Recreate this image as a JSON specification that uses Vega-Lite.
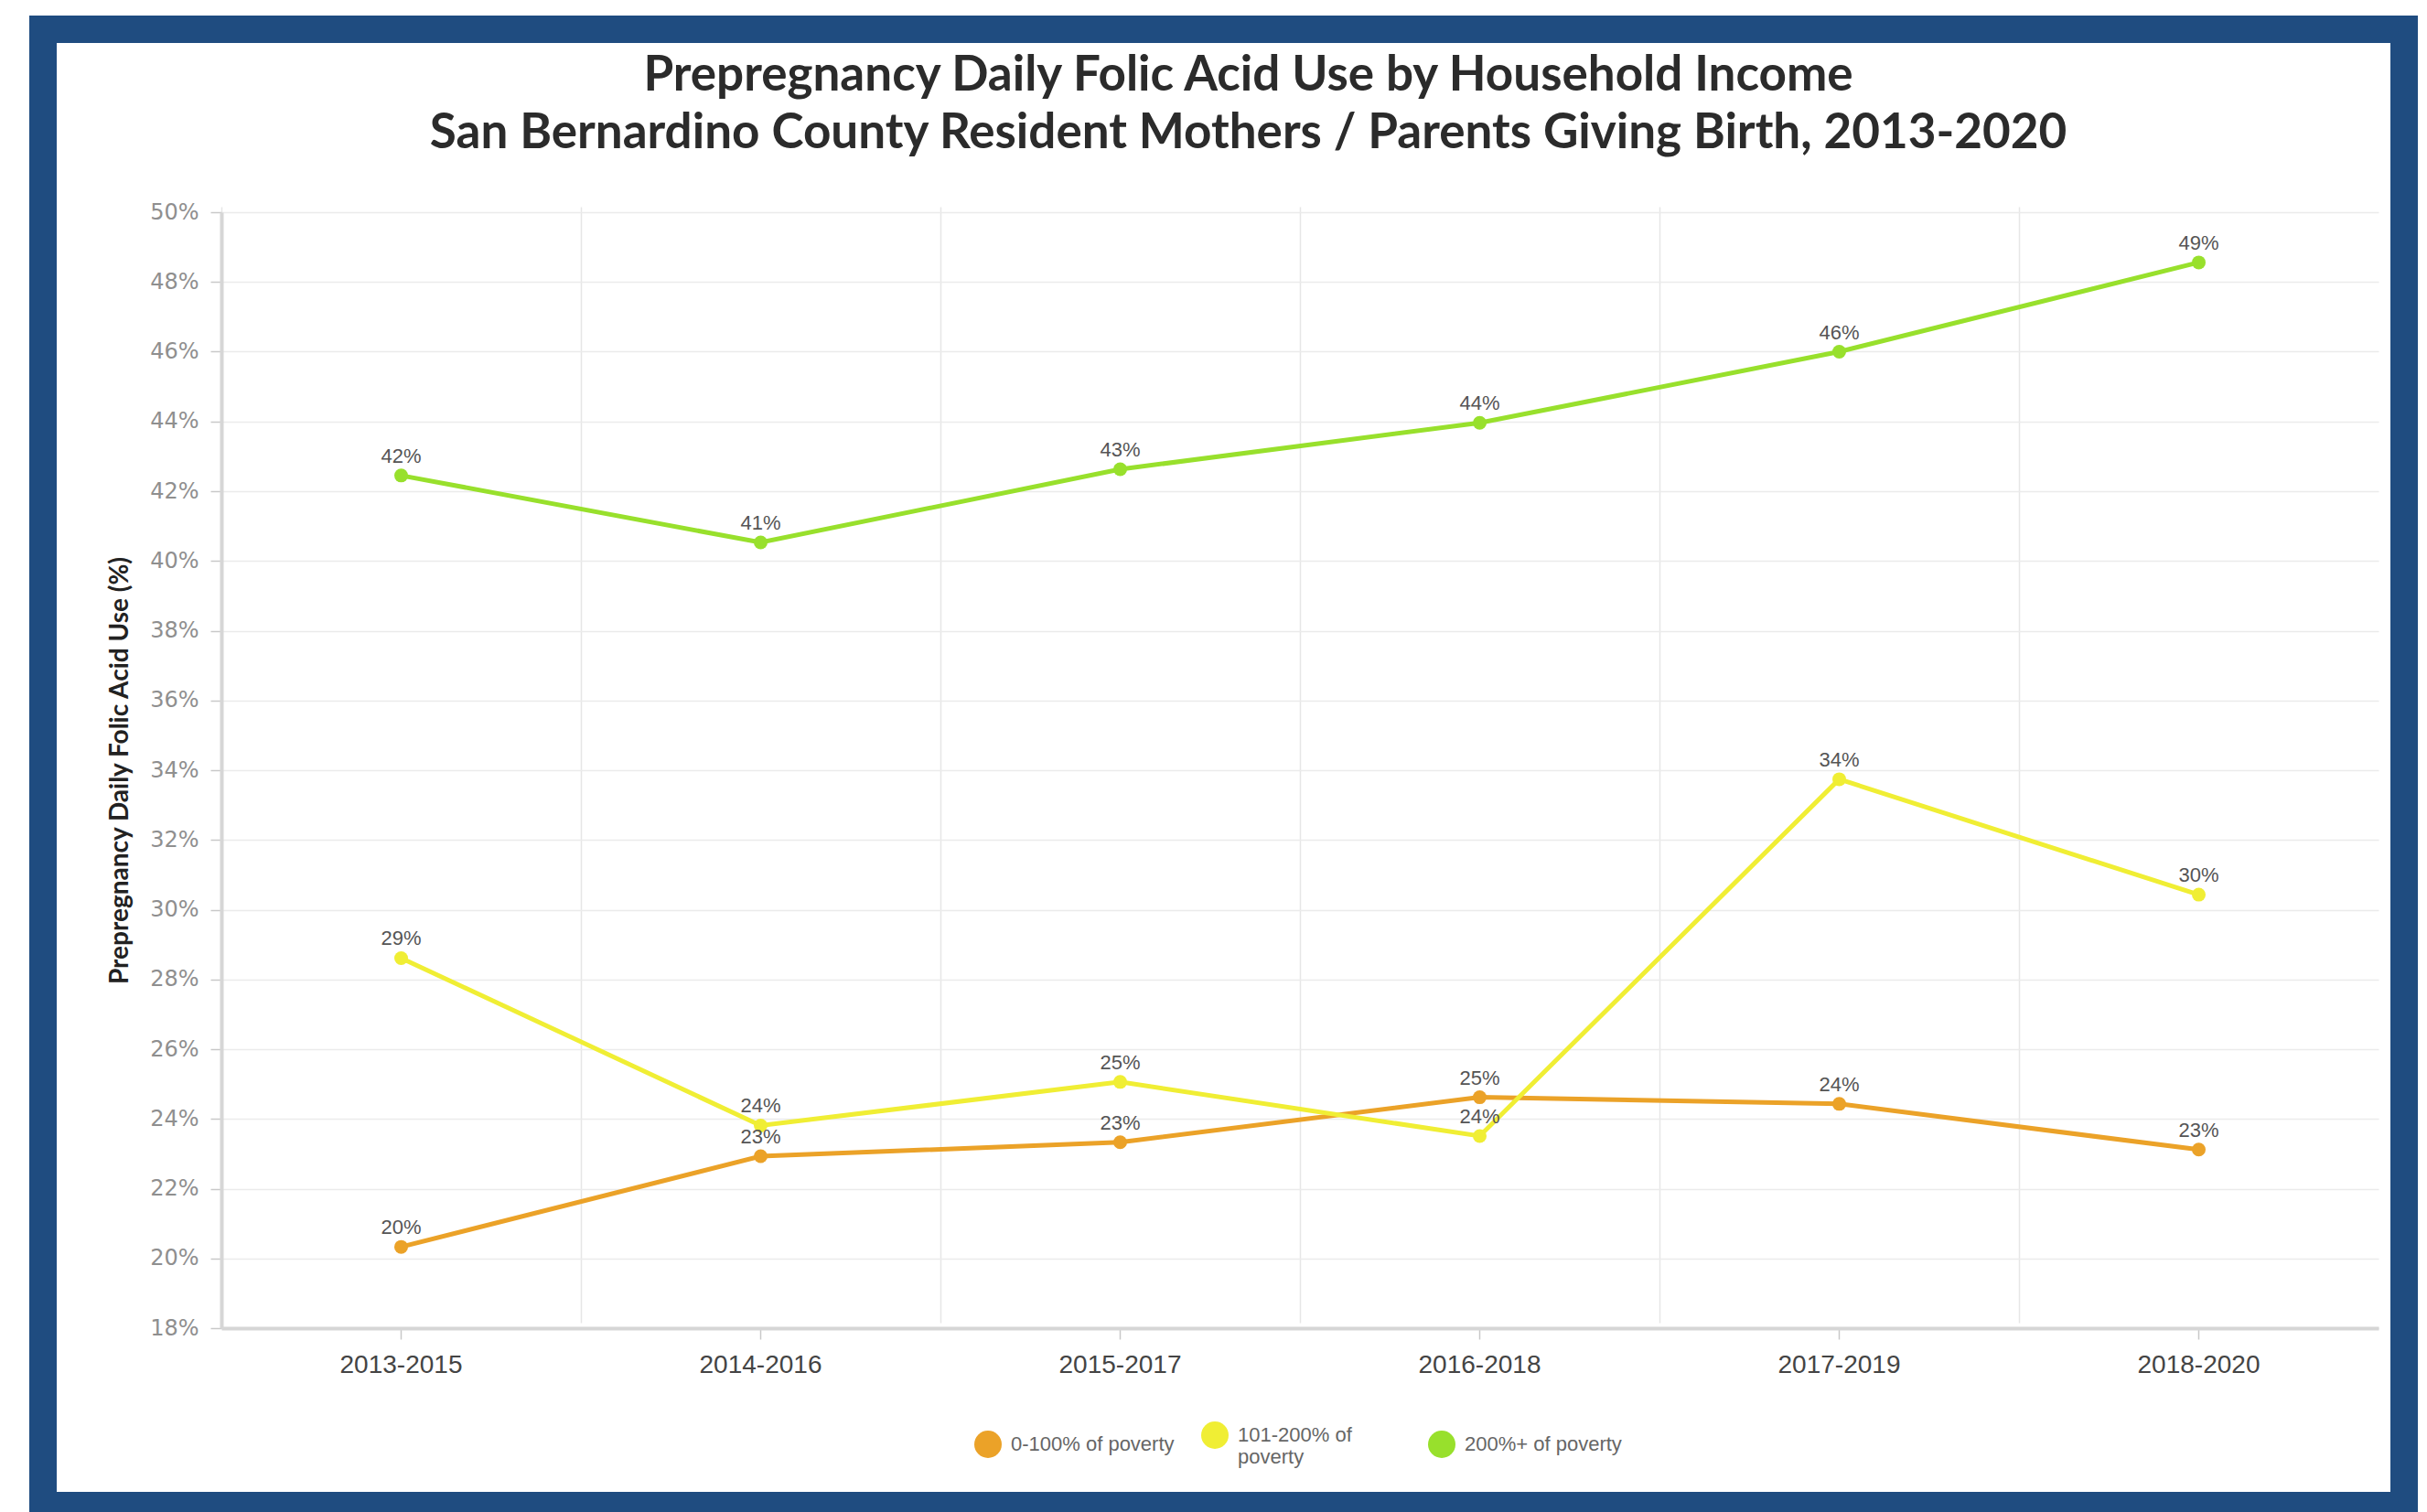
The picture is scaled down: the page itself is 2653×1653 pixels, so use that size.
{
  "$schema": "https://vega.github.io/schema/vega-lite/v6.json",
  "width": 2581,
  "height": 1614,
  "autosize": "none",
  "padding": {"left": 47, "top": 32, "right": 25, "bottom": 7},
  "background": "white",
  "title": {
    "text": ["Prepregnancy Daily Folic Acid Use by Household Income", "San Bernardino County Resident Mothers / Parents Giving Birth, 2013-2020"],
    "font": "Lato",
    "fontSize": 53,
    "fontWeight": "bold",
    "color": "#2b2b2b",
    "anchor": "middle",
    "frame": "group",
    "baseline": "top",
    "lineHeight": 63,
    "offset": -141,
    "dx": 27
  },
  "data": {
    "values": [
      {"period": "2013-2015", "group": "0-100% of poverty", "pct": 0.2033},
      {"period": "2014-2016", "group": "0-100% of poverty", "pct": 0.2293},
      {"period": "2015-2017", "group": "0-100% of poverty", "pct": 0.2333},
      {"period": "2016-2018", "group": "0-100% of poverty", "pct": 0.2462},
      {"period": "2017-2019", "group": "0-100% of poverty", "pct": 0.2443},
      {"period": "2018-2020", "group": "0-100% of poverty", "pct": 0.2312},
      {"period": "2013-2015", "group": "101-200% of poverty", "pct": 0.2861},
      {"period": "2014-2016", "group": "101-200% of poverty", "pct": 0.2381},
      {"period": "2015-2017", "group": "101-200% of poverty", "pct": 0.2506},
      {"period": "2016-2018", "group": "101-200% of poverty", "pct": 0.2351},
      {"period": "2017-2019", "group": "101-200% of poverty", "pct": 0.3374},
      {"period": "2018-2020", "group": "101-200% of poverty", "pct": 0.3043},
      {"period": "2013-2015", "group": "200%+ of poverty", "pct": 0.4245},
      {"period": "2014-2016", "group": "200%+ of poverty", "pct": 0.4053},
      {"period": "2015-2017", "group": "200%+ of poverty", "pct": 0.4263},
      {"period": "2016-2018", "group": "200%+ of poverty", "pct": 0.4396},
      {"period": "2017-2019", "group": "200%+ of poverty", "pct": 0.4600},
      {"period": "2018-2020", "group": "200%+ of poverty", "pct": 0.4856}
    ]
  },
  "layer": [
    {
      "mark": {"type": "line", "strokeWidth": 5},
      "encoding": {
        "x": {
          "field": "period", "type": "ordinal",
          "scale": {"type": "band", "range": [195, 2553], "paddingInner": 0, "paddingOuter": 0},
          "axis": {
            "title": null, "orient": "bottom", "offset": -194, "grid": false,
            "domain": true, "domainColor": "#d6d6d6", "domainWidth": 4,
            "ticks": true, "tickColor": "#c8c8c8", "tickSize": 12, "tickWidth": 1.5,
            "labelFont": "Liberation Sans", "labelFontSize": 28, "labelColor": "#444444",
            "labelPadding": 14, "labelAngle": 0
          }
        },
        "y": {
          "field": "pct", "type": "quantitative",
          "scale": {"domain": [0.18, 0.5], "range": [1420, 200], "nice": false, "zero": false},
          "axis": {
            "title": "Prepregnancy Daily Folic Acid Use (%)", "orient": "left", "offset": -195,
            "values": [0.18, 0.2, 0.22, 0.24, 0.26, 0.28, 0.3, 0.32, 0.34, 0.36, 0.38, 0.4, 0.42, 0.44, 0.46, 0.48, 0.5],
            "format": ".0%", "grid": true, "gridColor": "#ebebeb", "gridWidth": 1.5,
            "domain": true, "domainColor": "#d6d6d6", "domainWidth": 4,
            "ticks": true, "tickColor": "#c8c8c8", "tickSize": 12, "tickWidth": 1.5,
            "labelFont": "DejaVu Sans", "labelFontSize": 24, "labelColor": "#8f8f8f", "labelPadding": 13,
            "titleFont": "Lato", "titleFontSize": 28, "titleFontWeight": "bold", "titleColor": "#222222", "titlePadding": 18
          }
        },
        "color": {
          "field": "group", "type": "nominal",
          "scale": {"domain": ["0-100% of poverty", "101-200% of poverty", "200%+ of poverty"], "range": ["#EBA228", "#F0EE34", "#98E02C"]}
        }
      }
    },
    {
      "mark": {"type": "point", "filled": true, "size": 225, "opacity": 1},
      "encoding": {
        "x": {
          "field": "period", "type": "ordinal",
          "scale": {"type": "band", "range": [195, 2553], "paddingInner": 0, "paddingOuter": 0},
          "axis": {
            "title": null, "orient": "bottom", "offset": -194, "grid": true, "gridColor": "#e6e6e6", "gridWidth": 1.5,
            "bandPosition": 0, "labels": false, "ticks": false, "domain": false
          }
        },
        "y": {"field": "pct", "type": "quantitative", "scale": {"domain": [0.18, 0.5], "range": [1420, 200], "nice": false, "zero": false}},
        "color": {
          "field": "group", "type": "nominal",
          "scale": {"domain": ["0-100% of poverty", "101-200% of poverty", "200%+ of poverty"], "range": ["#EBA228", "#F0EE34", "#98E02C"]},
          "legend": {
            "orient": "none", "legendX": 1018, "legendY": 1522, "direction": "horizontal",
            "columns": 3, "gridAlign": "all", "columnPadding": 29, "title": null, "padding": 0,
            "symbolType": "circle", "symbolSize": 900, "symbolStrokeWidth": 0,
            "labelFont": "Liberation Sans", "labelFontSize": 22, "labelColor": "#666666",
            "labelOffset": 10, "labelLimit": 400, "labelBaseline": "middle",
            "labelExpr": "datum.label == '101-200% of poverty' ? ['101-200% of', 'poverty'] : datum.label",
            "encode": {
              "symbols": {
                "update": {
                  "fill": {"scale": "color", "field": "value"},
                  "stroke": {"value": "transparent"},
                  "opacity": {"value": 1}
                }
              }
            }
          }
        }
      }
    },
    {
      "mark": {"type": "text", "font": "Liberation Sans", "fontSize": 22, "color": "#555555", "dy": -14, "baseline": "alphabetic"},
      "encoding": {
        "x": {
          "field": "period", "type": "ordinal",
          "scale": {"type": "band", "range": [195, 2553], "paddingInner": 0, "paddingOuter": 0},
          "axis": null
        },
        "y": {"field": "pct", "type": "quantitative", "scale": {"domain": [0.18, 0.5], "range": [1420, 200], "nice": false, "zero": false}},
        "text": {"field": "pct", "type": "quantitative", "format": ".0%"}
      }
    }
  ],
  "resolve": {"axis": {"x": "independent"}},
  "config": {
    "view": {"stroke": "#1F4C80", "strokeWidth": 30, "fill": "white"}
  }
}
